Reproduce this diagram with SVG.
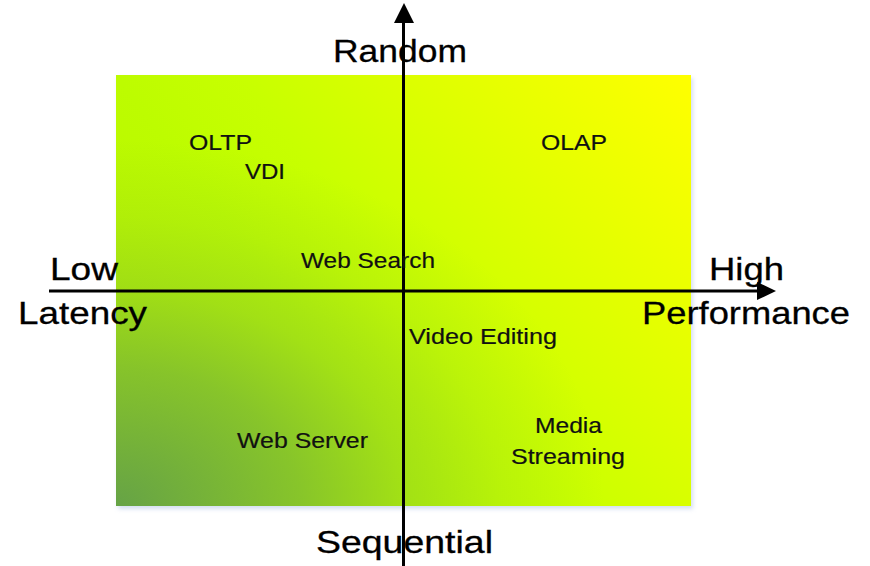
<svg xmlns="http://www.w3.org/2000/svg" width="870" height="566" viewBox="0 0 870 566">
  <defs>
    <!-- base wash: yellow-green toward the upper right -->
    <linearGradient id="wash" gradientUnits="userSpaceOnUse" x1="116" y1="506" x2="691" y2="75">
      <stop offset="0" stop-color="#b4f000"/>
      <stop offset="0.36" stop-color="#bdfc00"/>
      <stop offset="0.5" stop-color="#c8ff00"/>
      <stop offset="0.64" stop-color="#d8ff00"/>
      <stop offset="1" stop-color="#ffff00"/>
    </linearGradient>
    <!-- green glow from the lower left corner -->
    <radialGradient id="glow" cx="0" cy="1" r="1" fx="0" fy="1">
      <stop offset="0" stop-color="#66a346" stop-opacity="1"/>
      <stop offset="0.32" stop-color="#66a346" stop-opacity="0.6"/>
      <stop offset="0.5" stop-color="#66a346" stop-opacity="0.3"/>
      <stop offset="0.67" stop-color="#66a346" stop-opacity="0.12"/>
      <stop offset="0.85" stop-color="#66a346" stop-opacity="0"/>
    </radialGradient>
    <filter id="shadow" x="-5%" y="-5%" width="110%" height="110%">
      <feDropShadow dx="2" dy="3" stdDeviation="2" flood-color="#9fb8e0" flood-opacity="0.45"/>
    </filter>
  </defs>
  <style>
    .axis { stroke: #000; stroke-width: 3; fill: none; }
    .head { fill: #000; }
    .big { font-family: "Liberation Sans", Arial, sans-serif; font-size: 32px; fill: #000; stroke: #000; stroke-width: 0.3; }
    .lbl { font-family: "Liberation Sans", Arial, sans-serif; font-size: 22px; fill: #111; stroke: #111; stroke-width: 0.2; }
  </style>

  <rect width="870" height="566" fill="#fff"/>

  <!-- quadrant field -->
  <g id="field">
    <rect x="116" y="75" width="575" height="431" fill="url(#wash)" filter="url(#shadow)"/>
    <rect x="116" y="75" width="575" height="431" fill="url(#glow)"/>
  </g>

  <!-- axes -->
  <g id="connectors">
    <line class="axis" x1="403.5" y1="566" x2="403.5" y2="20"/>
    <polygon class="head" points="394,23 404,3 414,23"/>
    <line class="axis" x1="49" y1="291" x2="760" y2="291"/>
    <polygon class="head" points="757,282 776,291 757,300"/>
  </g>

  <!-- axis labels (wide-set type: glyphs stretched horizontally) -->
  <g id="axis-labels">
    <text class="big" transform="translate(333,62) scale(1.12,1)" textLength="119.6" lengthAdjust="spacingAndGlyphs">Random</text>
    <text class="big" transform="translate(316,553) scale(1.12,1)" textLength="158" lengthAdjust="spacingAndGlyphs">Sequential</text>
    <text class="big" transform="translate(50,280) scale(1.12,1)" textLength="60.7" lengthAdjust="spacingAndGlyphs">Low</text>
    <text class="big" transform="translate(18,324) scale(1.12,1)" textLength="115.2" lengthAdjust="spacingAndGlyphs">Latency</text>
    <text class="big" transform="translate(709,280) scale(1.12,1)" textLength="67" lengthAdjust="spacingAndGlyphs">High</text>
    <text class="big" transform="translate(642,324) scale(1.12,1)" textLength="185.7" lengthAdjust="spacingAndGlyphs">Performance</text>
  </g>

  <!-- workloads -->
  <g id="oltp"><text class="lbl" transform="translate(189,150) scale(1.1,1)" textLength="57.3" lengthAdjust="spacingAndGlyphs">OLTP</text></g>
  <g id="vdi"><text class="lbl" transform="translate(245,179) scale(1.1,1)" textLength="36.4" lengthAdjust="spacingAndGlyphs">VDI</text></g>
  <g id="olap"><text class="lbl" transform="translate(541,150) scale(1.1,1)" textLength="60" lengthAdjust="spacingAndGlyphs">OLAP</text></g>
  <g id="web-search"><text class="lbl" transform="translate(301,268) scale(1.1,1)" textLength="121.8" lengthAdjust="spacingAndGlyphs">Web Search</text></g>
  <g id="video-editing"><text class="lbl" transform="translate(409,344) scale(1.1,1)" textLength="134.5" lengthAdjust="spacingAndGlyphs">Video Editing</text></g>
  <g id="web-server"><text class="lbl" transform="translate(237,448) scale(1.1,1)" textLength="119.1" lengthAdjust="spacingAndGlyphs">Web Server</text></g>
  <g id="media-streaming">
    <text class="lbl" transform="translate(535,433) scale(1.1,1)" textLength="60.9" lengthAdjust="spacingAndGlyphs">Media</text>
    <text class="lbl" transform="translate(511,464) scale(1.1,1)" textLength="103.6" lengthAdjust="spacingAndGlyphs">Streaming</text>
  </g>
</svg>
